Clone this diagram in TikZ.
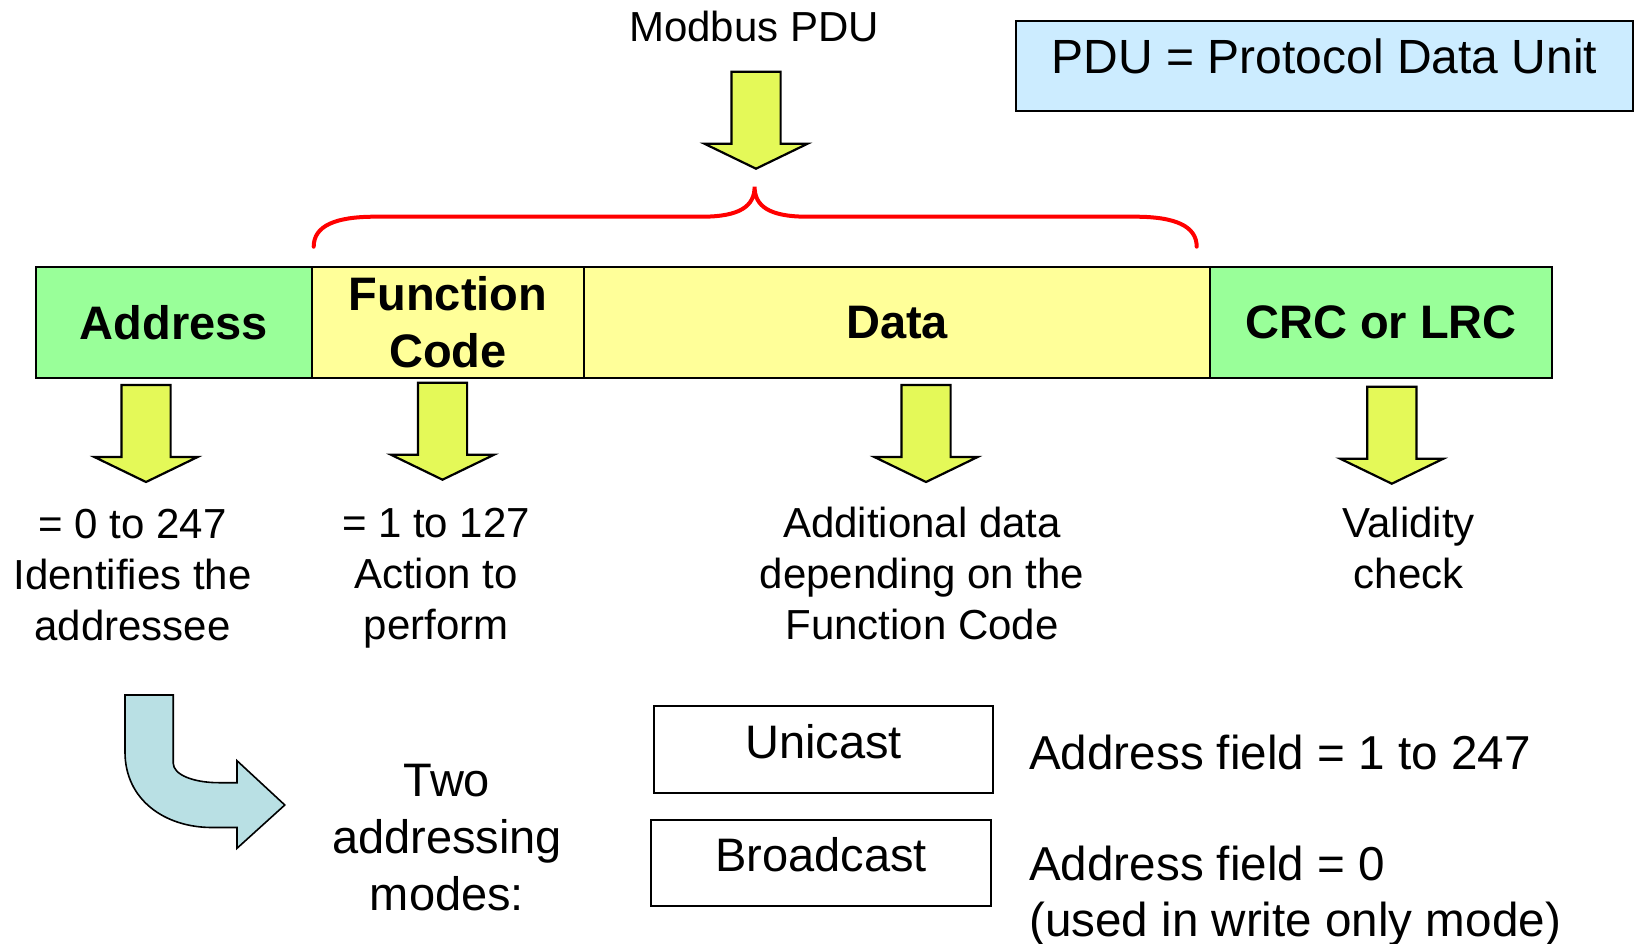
\documentclass[tikz,border=0pt]{standalone}
\usepackage{fontspec}
\setmainfont{Liberation Sans}
\definecolor{cellgreen}{RGB}{153,255,153}
\definecolor{cellyellow}{RGB}{255,255,153}
\definecolor{arrowyellow}{RGB}{228,249,88}
\definecolor{pdublue}{RGB}{204,236,255}
\definecolor{curvecyan}{RGB}{185,224,228}
\tikzset{
  cell/.style={draw=black, line width=2pt, inner sep=0pt, align=center,
    font=\fontsize{47}{56.7}\selectfont\bfseries, minimum height=110.7pt},
  blockarrow/.style={draw=black, fill=arrowyellow, line width=2.2pt, line join=miter},
  pics/downarrow/.style={code={
    \draw[blockarrow] (-24.6,0) -- (24.6,0) -- (24.6,72) -- (51.6,72) -- (0,97)
      -- (-51.6,72) -- (-24.6,72) -- cycle;}},
  desc/.style={inner sep=0pt, align=center, anchor=base, font=\fontsize{42}{51}\selectfont},
  big/.style={inner sep=0pt, font=\fontsize{47.6}{56.6}\selectfont},
  modebox/.style={draw=black, line width=2pt, inner sep=0pt, text height=34.3pt,
    text depth=16.5pt, font=\fontsize{47}{56.6}\selectfont},
}
\begin{document}
\begin{tikzpicture}[x=1pt, y=-1pt]
\useasboundingbox (0,0) rectangle (1641,944);

% title and PDU definition
\node[inner sep=0pt, anchor=base, font=\fontsize{42}{50}\selectfont] (title) at (754,41.7) {Modbus PDU};
\node[draw=black, fill=pdublue, line width=2pt, inner sep=0pt,
      minimum width=617pt, minimum height=90pt, text height=35pt, text depth=19.4pt,
      font=\fontsize{48}{56}\selectfont] (pdudef) at (1324.5,65.7) {PDU = Protocol Data Unit};

% top arrow
\pic at (756,71.7) {downarrow};

% red brace
\draw[red, line width=4pt, line cap=round] (313.7,246.7)
  .. controls (313.7,226) and (335,216.7) .. (375,216.7) -- (702,216.7)
  .. controls (740,216.7) and (754.6,206) .. (754.6,186.7)
  .. controls (754.6,206) and (769,216.7) .. (807,216.7) -- (1135,216.7)
  .. controls (1175,216.7) and (1196.7,226) .. (1196.7,246.7);

% frame bar
\node[cell, fill=cellgreen, minimum width=276.4pt] (addr) at (173.8,322.3) {Address};
\node[cell, fill=cellyellow, minimum width=272pt] (func) at (448,322.3) {Function\\Code};
\node[cell, fill=cellyellow, minimum width=626pt] (data) at (897,322.3) {Data};
\node[cell, fill=cellgreen, minimum width=342pt] (crc) at (1381,322.3) {CRC or LRC};

% down arrows
\pic at (146,385) {downarrow};
\pic at (442.5,382.7) {downarrow};
\pic at (926,385) {downarrow};
\pic at (1391.8,386.7) {downarrow};

% descriptions (base anchor = baseline of the last line)
\node[desc] (addrtxt) at (132.5,640.3) {= 0 to 247\\Identifies the\\addressee};
\node[desc] (functxt) at (436,639) {= 1 to 127\\Action to\\perform};
\node[desc] (datatxt) at (922,639.3) {Additional data\\depending on the\\Function Code};
\node[desc] (crctxt) at (1408.7,588.5) {Validity\\check};

% curved arrow
\draw[draw=black, fill=curvecyan, line width=1.6pt, line join=miter]
  (125,695) -- (125,752)
  .. controls (125,800) and (165,827.5) .. (212,827.5)
  -- (237,827.5) -- (237,848.3) -- (284.8,805) -- (237,760.7) -- (237,782.7)
  -- (219,782.7) .. controls (194,782.7) and (173.2,775) .. (173.2,763)
  -- (173.2,695) -- cycle;

\node[big, align=center, anchor=base, font=\fontsize{47}{56.6}\selectfont] (modes) at (447,910) {Two\\addressing\\modes:};

\node[modebox, minimum width=339pt, minimum height=86.7pt] (uni) at (823.5,749.4) {Unicast};
\node[modebox, minimum width=340pt, minimum height=86pt] (broad) at (821,863) {Broadcast};

\node[big, anchor=base west] (unitxt) at (1029,769.3) {Address field = 1 to 247};
\node[big, anchor=base west, align=left, font=\fontsize{47.6}{56}\selectfont] (broadtxt) at (1029,936)
  {Address field = 0\\(used in write only mode)};
\end{tikzpicture}
\end{document}
